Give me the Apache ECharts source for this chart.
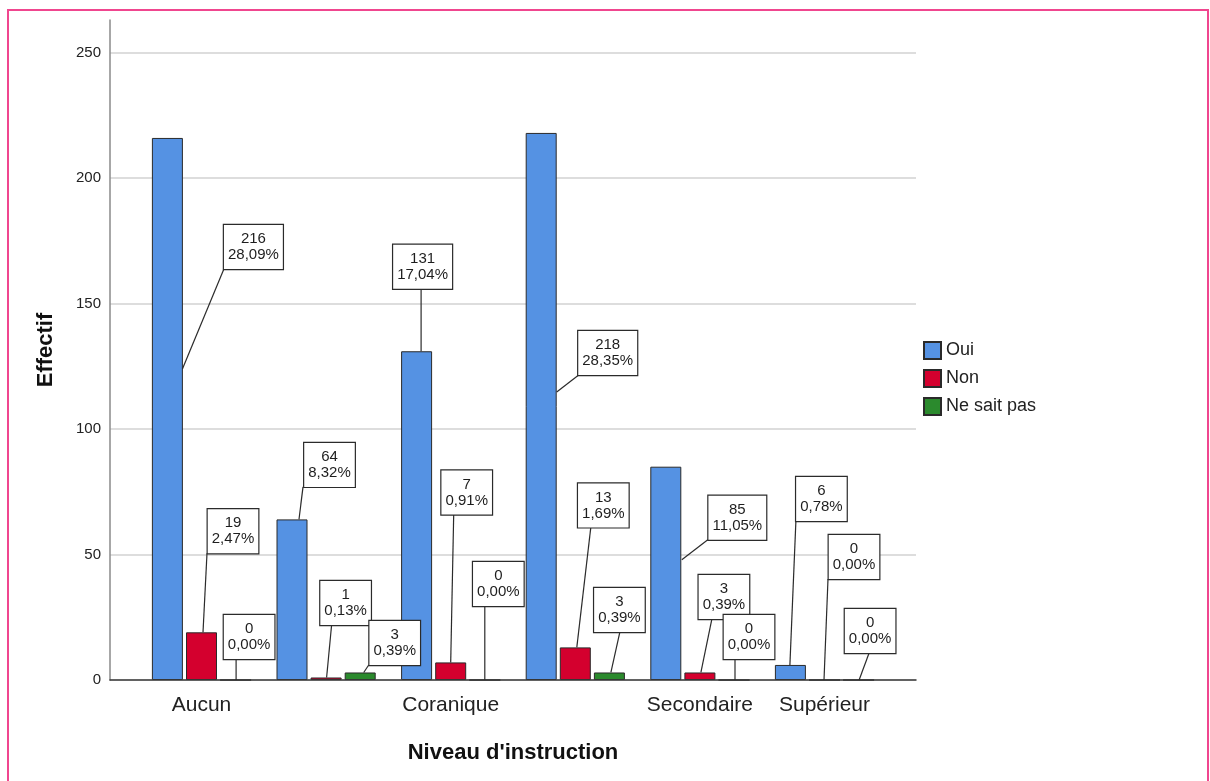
<!DOCTYPE html>
<html>
<head>
<meta charset="utf-8">
<script src="https://cdn.jsdelivr.net/npm/echarts@6/dist/echarts.min.js"></script>
<style>
  html, body { margin: 0; padding: 0; background: #ffffff; }
  #chart { width: 1210px; height: 781px; }
</style>
</head>
<body>
<div id="chart"></div>
<script>
// Categories of the education level (two of them carry no visible tick label)
const categories = ['Aucun', '', 'Coranique', '', 'Secondaire', 'Supérieur'];
const yTickValues = [0, 50, 100, 150, 200, 250];
const responseNames = ['Oui', 'Non', 'Ne sait pas'];

// Counts per response, in category order
const oui = [216, 64, 131, 218, 85, 6];
const non = [19, 1, 7, 13, 3, 0];
const neSaitPas = [0, 3, 0, 3, 0, 0];

const responseValues = [oui, non, neSaitPas];
const total = responseValues.flat().reduce((a, b) => a + b, 0);

// Callout placement per bar, in pixels relative to the top centre of the bar:
// [box centre dx, box bottom dy, leader start dx, leader start dy, leader end dx from box centre]
const calloutOui = [
  [86, 131, 15, 231, -29.5],
  [37.5, -32.5, 7, 0, -26.5],
  [6, -62.5, 4.5, 0, -1.5],
  [66.5, 242, 15.5, 259, -29],
  [71.5, 73, 16, 93, -29.5],
  [31, -144, -0.5, 0, -25.5]
];
const calloutNon = [
  [31.5, -79, 1.5, 0, -26],
  [19.5, -52.5, 0.5, 0, -14],
  [16, -148, 0, 0, -13],
  [28, -120, 1.5, 0, -12.5],
  [24, -53.5, 1, 0, -12],
  [29.5, -101, -0.5, 0, -26]
];
const calloutNeSaitPas = [
  [13.5, -21, 0.5, 0, -13],
  [34.5, -7.5, 3.5, 0, -26],
  [13.5, -74, 0, 0, -13.5],
  [10, -40.5, 1.5, 0, 0.5],
  [15, -21, 1, 0, -14],
  [11.5, -27, 0.5, 0, -1]
];
const callouts = [calloutOui, calloutNon, calloutNeSaitPas];

const colors = ['#5592e3', '#d4002e', '#2b8a2d'];
const FONT = '"Liberation Sans", Arial, sans-serif';
const BAR_WIDTH = 31;
const BAR_GAP_RATIO = 0.1;
const Y_MAX = 263;

function pct(v) {
  return (v / total * 100).toFixed(2).replace('.', ',') + '%';
}

function calloutRenderer(seriesIdx) {
  const place = callouts[seriesIdx];
  const step = BAR_WIDTH * (1 + BAR_GAP_RATIO);
  return function (params, api) {
    const i = api.value(0);
    const v = api.value(1);
    const p = api.coord([i, v]);
    const cx = p[0] + (seriesIdx - 1) * step;
    const ty = p[1];
    const [dx, dy, sx, sy, ex] = place[i];
    const boxCx = cx + dx;
    const boxBottom = ty + dy;
    return {
      type: 'group',
      children: [
        {
          type: 'line',
          shape: { x1: cx + sx, y1: ty + sy, x2: boxCx + ex, y2: boxBottom },
          style: { stroke: '#2b2b2b', lineWidth: 1.2 }
        },
        {
          type: 'text',
          x: boxCx,
          y: boxBottom,
          style: {
            text: v + '\n' + pct(v),
            fill: '#1e1e1e',
            font: '15px ' + FONT,
            align: 'center',
            verticalAlign: 'bottom',
            lineHeight: 16,
            backgroundColor: '#ffffff',
            borderColor: '#2b2b2b',
            borderWidth: 1.2,
            padding: [6, 4, 6, 4]
          }
        }
      ]
    };
  };
}

const chart = echarts.init(document.getElementById('chart'), null, { renderer: 'canvas' });

const barSeries = responseNames.map((name, s) => ({
  name: name,
  type: 'bar',
  xAxisIndex: 1,
  yAxisIndex: 1,
  data: responseValues[s],
  barWidth: BAR_WIDTH,
  barGap: (BAR_GAP_RATIO * 100) + '%',
  itemStyle: { color: colors[s], borderColor: '#2a2a2a', borderWidth: 1 },
  emphasis: { disabled: true },
  z: 2
}));

const calloutSeries = responseNames.map((name, s) => ({
  name: 'callout-' + s,
  type: 'custom',
  xAxisIndex: 1,
  yAxisIndex: 1,
  data: responseValues[s].map((v, i) => [i, v]),
  encode: { x: 0, y: 1 },
  renderItem: calloutRenderer(s),
  silent: true,
  z: 5
}));

chart.setOption({
  animation: false,
  backgroundColor: '#ffffff',
  textStyle: { fontFamily: FONT },
  graphic: [{
    type: 'rect',
    shape: { x: 8, y: 10, width: 1200, height: 800 },
    style: { fill: 'none', stroke: '#f0468f', lineWidth: 2 },
    silent: true,
    z: -10
  }],
  legend: {
    data: responseNames,
    orient: 'vertical',
    left: 923,
    top: 341,
    padding: 0,
    itemWidth: 17,
    itemHeight: 17,
    itemGap: 9,
    icon: 'rect',
    selectedMode: false,
    textStyle: { fontSize: 18, color: '#222222', fontFamily: FONT }
  },
  grid: [
    { left: 110, top: 20, width: 806, height: 660 },
    { left: 139.2, top: 20, width: 747.6, height: 660 }
  ],
  xAxis: [
    {
      type: 'value',
      gridIndex: 0,
      min: 0,
      max: 1,
      axisLine: { show: true, lineStyle: { color: '#3a3a3a', width: 1.5 } },
      axisTick: { show: false },
      axisLabel: { show: false },
      splitLine: { show: false },
      name: "Niveau d'instruction",
      nameLocation: 'middle',
      nameGap: 62,
      nameTextStyle: { fontSize: 22, fontWeight: 'bold', color: '#111111', fontFamily: FONT },
      z: 3
    },
    {
      type: 'category',
      gridIndex: 1,
      data: categories,
      axisLine: { show: false },
      axisTick: { show: false },
      axisLabel: { interval: 0, fontSize: 21, color: '#222222', margin: 15, fontFamily: FONT },
      splitLine: { show: false }
    }
  ],
  yAxis: [
    {
      type: 'value',
      gridIndex: 0,
      min: yTickValues[0],
      max: Y_MAX,
      interval: yTickValues[1] - yTickValues[0],
      axisLine: { show: true, lineStyle: { color: '#8a8a8a', width: 1.5 } },
      axisTick: { show: false },
      axisLabel: { fontSize: 15, color: '#222222', margin: 9, showMaxLabel: false, fontFamily: FONT },
      splitLine: { show: true, showMaxLine: false, lineStyle: { color: '#d2d2d2', width: 1.5 } },
      name: 'Effectif',
      nameLocation: 'middle',
      nameGap: 53,
      nameTextStyle: { fontSize: 22, fontWeight: 'bold', color: '#111111', fontFamily: FONT }
    },
    {
      type: 'value',
      gridIndex: 1,
      min: yTickValues[0],
      max: Y_MAX,
      show: false,
      splitLine: { show: false }
    }
  ],
  series: barSeries.concat(calloutSeries)
});
</script>
</body>
</html>
